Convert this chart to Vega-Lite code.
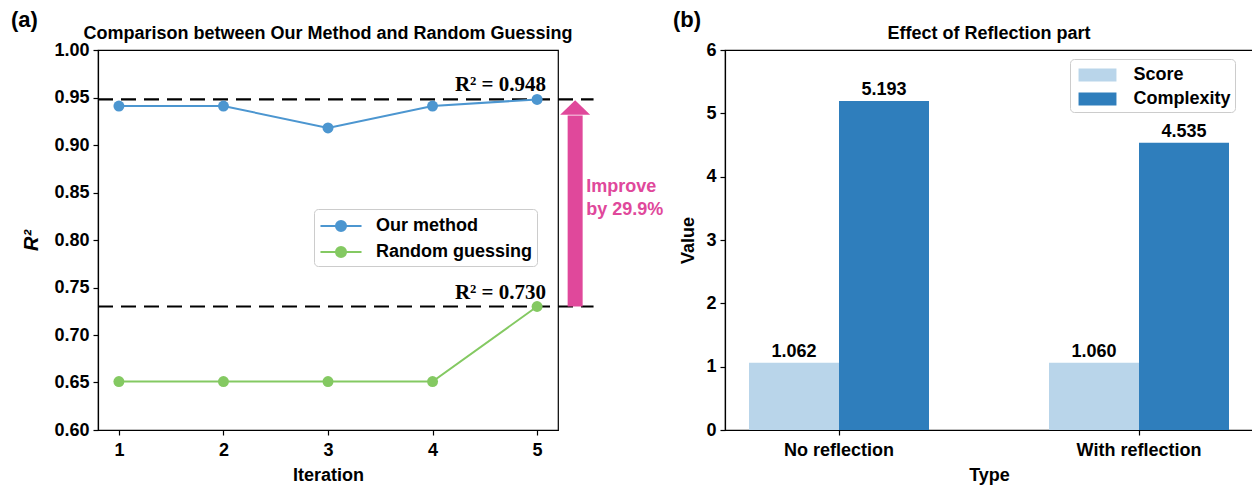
{
  "$schema": "https://vega.github.io/schema/vega-lite/v6.json",
  "padding": {"left": 10, "top": 8, "right": 0, "bottom": 0},
  "autosize": {"type": "pad"},
  "background": "white",
  "spacing": 167,
  "bounds": "flush",
  "config": {
    "font": "Liberation Sans",
    "view": {"stroke": "#000", "strokeWidth": 1.2},
    "axis": {
      "grid": false,
      "domainColor": "#000",
      "domainWidth": 1.2,
      "tickColor": "#000",
      "tickWidth": 1.2,
      "tickSize": 5,
      "labelFont": "Liberation Sans",
      "labelFontSize": 18,
      "labelFontWeight": "bold",
      "labelColor": "#000",
      "labelPadding": 4,
      "titleFont": "Liberation Sans",
      "titleFontSize": 18,
      "titleFontWeight": "bold",
      "titleColor": "#000",
      "titlePadding": 4
    },
    "axisX": {"labelPadding": 6, "titlePadding": 7},
    "legend": {
      "labelFont": "Liberation Sans",
      "labelFontSize": 18,
      "labelFontWeight": "bold",
      "labelColor": "#000",
      "strokeColor": "#cccccc",
      "fillColor": "rgba(255,255,255,0.85)",
      "cornerRadius": 4,
      "padding": 4,
      "rowPadding": 3
    },
    "title": {"font": "Liberation Sans", "fontSize": 22, "fontWeight": "bold", "color": "#000", "anchor": "start", "frame": "group"}
  },
  "datasets": {
    "lines": [
      {"iteration": 1, "method": "Our method", "r2": 0.941},
      {"iteration": 2, "method": "Our method", "r2": 0.941},
      {"iteration": 3, "method": "Our method", "r2": 0.918},
      {"iteration": 4, "method": "Our method", "r2": 0.941},
      {"iteration": 5, "method": "Our method", "r2": 0.948},
      {"iteration": 1, "method": "Random guessing", "r2": 0.651},
      {"iteration": 2, "method": "Random guessing", "r2": 0.651},
      {"iteration": 3, "method": "Random guessing", "r2": 0.651},
      {"iteration": 4, "method": "Random guessing", "r2": 0.651},
      {"iteration": 5, "method": "Random guessing", "r2": 0.730}
    ],
    "refs": [
      {"v": 0.948, "label": "R² = 0.948"},
      {"v": 0.730, "label": "R² = 0.730"}
    ],
    "bars": [
      {"type": "No reflection", "metric": "Score", "value": 1.062},
      {"type": "No reflection", "metric": "Complexity", "value": 5.193},
      {"type": "With reflection", "metric": "Score", "value": 1.060},
      {"type": "With reflection", "metric": "Complexity", "value": 4.535}
    ],
    "note": [
      {"text": "Improve\nby 29.9%"}
    ]
  },
  "resolve": {"scale": {"color": "independent"}, "legend": {"color": "independent"}},
  "hconcat": [
    {
      "width": 460,
      "height": 380,
      "title": {"text": "(a)", "dx": -87, "offset": -7},
      "layer": [
        {
          "data": {"name": "refs"},
          "mark": {"type": "rule", "strokeDash": [15, 8], "strokeWidth": 2.2, "color": "#000", "clip": false},
          "encoding": {
            "y": {"field": "v", "type": "quantitative"},
            "x": {"datum": 0.8},
            "x2": {"datum": 5.54}
          }
        },
        {
          "data": {"name": "lines"},
          "mark": {"type": "line", "strokeWidth": 2},
          "encoding": {
            "x": {"field": "iteration", "type": "quantitative", "scale": {"domain": [0.8, 5.2], "nice": false, "zero": false}, "axis": {"values": [1, 2, 3, 4, 5], "format": "d", "title": "Iteration"}},
            "y": {"field": "r2", "type": "quantitative", "scale": {"domain": [0.6, 1.0], "nice": false, "zero": false}, "axis": {"values": [0.6, 0.65, 0.7, 0.75, 0.8, 0.85, 0.9, 0.95, 1.0], "format": ".2f", "title": "R²", "titleFontStyle": "italic", "titleFontSize": 20, "titlePadding": 12}},
            "color": {
              "field": "method", "type": "nominal",
              "scale": {"domain": ["Our method", "Random guessing"], "range": ["#4C96D0", "#84C962"]},
              "legend": {
                "title": null,
                "orient": "none",
                "legendX": 216,
                "legendY": 159,
                "symbolType": "M -1.71 0 L 1.71 0 M -0.42 0 A 0.42 0.42 0 1 0 0.42 0 A 0.42 0.42 0 1 0 -0.42 0",
                "symbolSize": 576,
                "symbolStrokeWidth": 2,
                "symbolOffset": 10,
                "labelOffset": 22
              }
            }
          }
        },
        {
          "data": {"name": "lines"},
          "mark": {"type": "point", "filled": true, "size": 120, "opacity": 1},
          "encoding": {
            "x": {"field": "iteration", "type": "quantitative"},
            "y": {"field": "r2", "type": "quantitative"},
            "color": {"field": "method", "type": "nominal"}
          }
        },
        {
          "data": {"name": "refs"},
          "mark": {"type": "text", "align": "right", "baseline": "alphabetic", "font": "Liberation Serif", "fontSize": 21, "fontWeight": "bold", "dy": -8, "color": "#000", "clip": false},
          "encoding": {
            "y": {"field": "v", "type": "quantitative"},
            "x": {"datum": 5.086},
            "text": {"field": "label"}
          }
        },
        {
          "data": {"name": "note"},
          "mark": {"type": "rule", "color": "#E0489B", "strokeWidth": 15, "strokeCap": "butt", "clip": false},
          "encoding": {
            "x": {"datum": 5.364},
            "y": {"datum": 0.730},
            "y2": {"datum": 0.931}
          }
        },
        {
          "data": {"name": "note"},
          "mark": {"type": "point", "shape": "M -1 0.48 L 1 0.48 L 0 -0.48 Z", "size": 900, "filled": true, "opacity": 1, "color": "#E0489B", "clip": false},
          "encoding": {
            "x": {"datum": 5.364},
            "y": {"datum": 0.9395}
          }
        },
        {
          "data": {"name": "note"},
          "mark": {"type": "text", "align": "left", "baseline": "middle", "fontSize": 18, "fontWeight": "bold", "color": "#E0489B", "lineBreak": "\n", "lineHeight": 23, "clip": false},
          "encoding": {
            "x": {"datum": 5.47},
            "y": {"datum": 0.8555},
            "text": {"field": "text"}
          }
        },
        {
          "data": {"name": "note"},
          "mark": {"type": "text", "align": "center", "baseline": "alphabetic", "fontSize": 18, "fontWeight": "bold", "color": "#000", "dy": -11, "text": "Comparison between Our Method and Random Guessing", "clip": false},
          "encoding": {
            "y": {"datum": 1.0}
          }
        }
      ]
    },
    {
      "width": 528,
      "height": 380,
      "title": {"text": "(b)", "dx": -52, "offset": -7},
      "layer": [
        {
          "data": {"name": "bars"},
          "mark": {"type": "bar"},
          "encoding": {
            "x": {"field": "type", "type": "nominal", "sort": ["No reflection", "With reflection"], "scale": {"paddingInner": 0.4, "paddingOuter": 0.08}, "axis": {"labelAngle": 0, "title": "Type"}},
            "xOffset": {"field": "metric", "type": "nominal", "sort": ["Score", "Complexity"], "scale": {"paddingInner": 0, "paddingOuter": 0}},
            "y": {"field": "value", "type": "quantitative", "scale": {"domain": [0, 6], "nice": false}, "axis": {"values": [0, 1, 2, 3, 4, 5, 6], "format": "d", "title": "Value", "titlePadding": 8}},
            "color": {
              "field": "metric", "type": "nominal",
              "scale": {"domain": ["Score", "Complexity"], "range": ["#B9D5EA", "#2F7EBC"]},
              "legend": {
                "title": null,
                "orient": "none",
                "legendX": 345,
                "legendY": 9,
                "symbolType": "M -1.58 -0.54 L 1.58 -0.54 L 1.58 0.54 L -1.58 0.54 Z",
                "symbolSize": 576,
                "symbolStrokeWidth": 0,
                "symbolOffset": 11.5,
                "labelOffset": 24
              }
            }
          }
        },
        {
          "data": {"name": "bars"},
          "mark": {"type": "text", "baseline": "bottom", "dy": -2, "fontSize": 18, "fontWeight": "bold", "color": "#000"},
          "encoding": {
            "x": {"field": "type", "type": "nominal", "sort": ["No reflection", "With reflection"]},
            "xOffset": {"field": "metric", "type": "nominal", "sort": ["Score", "Complexity"]},
            "y": {"field": "value", "type": "quantitative"},
            "text": {"field": "value", "type": "quantitative", "format": ".3f"}
          }
        },
        {
          "data": {"name": "note"},
          "mark": {"type": "text", "align": "center", "baseline": "alphabetic", "fontSize": 18, "fontWeight": "bold", "color": "#000", "dy": -11, "text": "Effect of Reflection part", "clip": false},
          "encoding": {
            "y": {"datum": 6}
          }
        }
      ]
    }
  ]
}
